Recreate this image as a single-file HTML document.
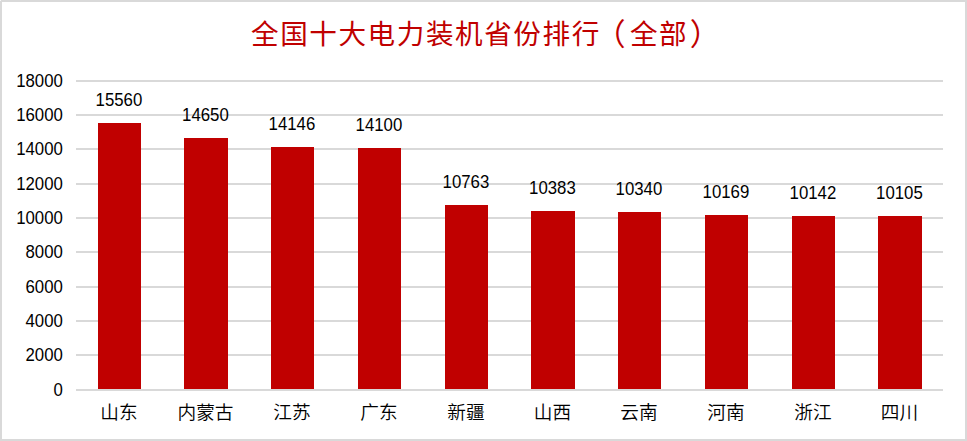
<!DOCTYPE html>
<html lang="zh"><head><meta charset="utf-8"><title>全国十大电力装机省份排行（全部）</title>
<style>
html,body{margin:0;padding:0;background:#fff;}
body{width:967px;height:441px;overflow:hidden;}
svg{display:block;}
text{font-family:"Liberation Sans","Noto Sans CJK SC",sans-serif;}
.t{font-size:27.6px;fill:#c00000;text-anchor:middle;font-weight:400;}
.n{font-size:16.8px;fill:#000;}
.c{font-size:18.67px;fill:#000;text-anchor:middle;font-weight:350;}
</style></head><body>
<svg width="967" height="441" viewBox="0 0 967 441">
<rect x="0" y="0" width="967" height="441" fill="#fff"/>
<rect x="1" y="1" width="965" height="439" fill="none" stroke="#d9d9d9" stroke-width="2"/>
<rect x="0" y="0" width="1" height="1" fill="#fff" fill-opacity="0.75"/>
<g fill="#d9d9d9">
<rect x="76" y="80" width="867" height="2"/>
<rect x="76" y="114" width="867" height="2"/>
<rect x="76" y="148" width="867" height="2"/>
<rect x="76" y="183" width="867" height="2"/>
<rect x="76" y="217" width="867" height="2"/>
<rect x="76" y="251" width="867" height="2"/>
<rect x="76" y="286" width="867" height="2"/>
<rect x="76" y="320" width="867" height="2"/>
<rect x="76" y="354" width="867" height="2"/>
<rect x="76" y="389" width="867" height="2"/>
</g>
<g fill="#c00000">
<rect x="98" y="123" width="43" height="266"/>
<rect x="184" y="138" width="44" height="251"/>
<rect x="271" y="147" width="43" height="242"/>
<rect x="358" y="148" width="43" height="241"/>
<rect x="445" y="205" width="43" height="184"/>
<rect x="531" y="211" width="44" height="178"/>
<rect x="618" y="212" width="43" height="177"/>
<rect x="705" y="215" width="43" height="174"/>
<rect x="792" y="216" width="43" height="173"/>
<rect x="878" y="216" width="44" height="173"/>
</g>
<text class="n" text-anchor="end" transform="translate(62.8,87.10) scale(1,1.07)">18000</text>
<text class="n" text-anchor="end" transform="translate(62.8,121.10) scale(1,1.07)">16000</text>
<text class="n" text-anchor="end" transform="translate(62.8,155.10) scale(1,1.07)">14000</text>
<text class="n" text-anchor="end" transform="translate(62.8,190.10) scale(1,1.07)">12000</text>
<text class="n" text-anchor="end" transform="translate(62.8,224.10) scale(1,1.07)">10000</text>
<text class="n" text-anchor="end" transform="translate(62.8,258.10) scale(1,1.07)">8000</text>
<text class="n" text-anchor="end" transform="translate(62.8,293.10) scale(1,1.07)">6000</text>
<text class="n" text-anchor="end" transform="translate(62.8,327.10) scale(1,1.07)">4000</text>
<text class="n" text-anchor="end" transform="translate(62.8,361.10) scale(1,1.07)">2000</text>
<text class="n" text-anchor="end" transform="translate(62.8,396.10) scale(1,1.07)">0</text>
<text class="n" text-anchor="middle" transform="translate(118.90,106.40) scale(1,1.07)">15560</text>
<text class="n" text-anchor="middle" transform="translate(205.40,121.40) scale(1,1.07)">14650</text>
<text class="n" text-anchor="middle" transform="translate(291.90,130.40) scale(1,1.07)">14146</text>
<text class="n" text-anchor="middle" transform="translate(378.90,131.40) scale(1,1.07)">14100</text>
<text class="n" text-anchor="middle" transform="translate(465.90,188.40) scale(1,1.07)">10763</text>
<text class="n" text-anchor="middle" transform="translate(552.40,194.40) scale(1,1.07)">10383</text>
<text class="n" text-anchor="middle" transform="translate(638.90,195.40) scale(1,1.07)">10340</text>
<text class="n" text-anchor="middle" transform="translate(725.90,198.40) scale(1,1.07)">10169</text>
<text class="n" text-anchor="middle" transform="translate(812.90,199.40) scale(1,1.07)">10142</text>
<text class="n" text-anchor="middle" transform="translate(899.40,199.40) scale(1,1.07)">10105</text>
<text class="c" x="119.00" y="418.9">山东</text>
<text class="c" x="205.50" y="418.9">内蒙古</text>
<text class="c" x="292.00" y="418.9">江苏</text>
<text class="c" x="379.00" y="418.9">广东</text>
<text class="c" x="466.00" y="418.9">新疆</text>
<text class="c" x="552.50" y="418.9">山西</text>
<text class="c" x="639.00" y="418.9">云南</text>
<text class="c" x="726.00" y="418.9">河南</text>
<text class="c" x="813.00" y="418.9">浙江</text>
<text class="c" x="899.50" y="418.9">四川</text>
<text class="t" y="44.3" x="264.80 293.95 323.10 352.25 381.40 410.55 439.70 468.85 498.00 527.15 556.30 585.45 610.20 643.75 672.90 704.95">全国十大电力装机省份排行<tspan font-size="30.6" dy="0.9">（</tspan><tspan dy="-0.9">全部</tspan><tspan font-size="30.6" dy="0.9">）</tspan></text>
</svg></body></html>
